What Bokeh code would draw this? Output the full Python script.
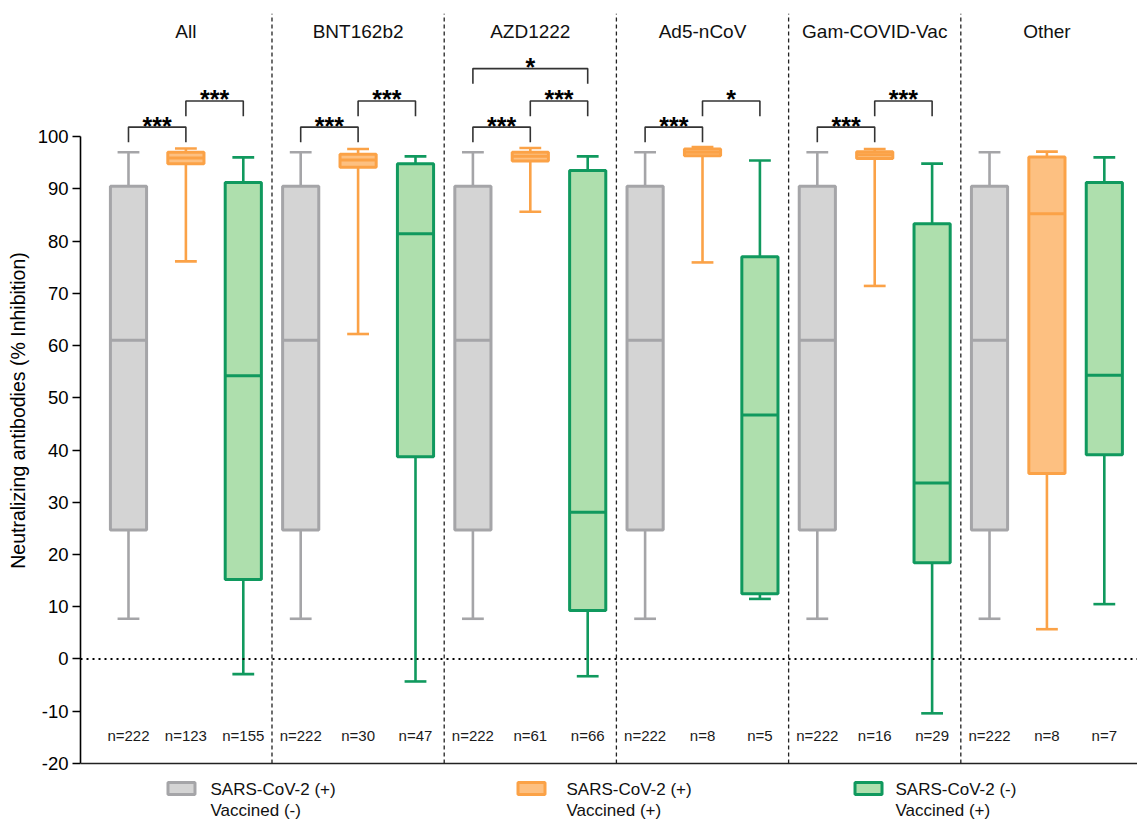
from bokeh.plotting import figure
from bokeh.models import Range1d, FixedTicker, Span, ColumnDataSource
from bokeh.embed import file_html
from bokeh.resources import INLINE
from bokeh.core.properties import value

# ---------------- data ----------------
groups = ["All", "BNT162b2", "AZD1222", "Ad5-nCoV", "Gam-COVID-Vac", "Other"]
series_line1 = ["SARS-CoV-2 (+)", "SARS-CoV-2 (+)", "SARS-CoV-2 (-)"]
series_line2 = ["Vaccined (-)", "Vaccined (+)", "Vaccined (+)"]
y_ticks = [-20, -10, 0, 10, 20, 30, 40, 50, 60, 70, 80, 90, 100]

# five-number summaries [low whisker, Q1, median, Q3, high whisker]
grey_stats = [
    [7.7, 24.7, 61.0, 90.5, 97.0],
    [7.7, 24.7, 61.0, 90.5, 97.0],
    [7.7, 24.7, 61.0, 90.5, 97.0],
    [7.7, 24.7, 61.0, 90.5, 97.0],
    [7.7, 24.7, 61.0, 90.5, 97.0],
    [7.7, 24.7, 61.0, 90.5, 97.0],
]
orange_stats = [
    [76.1, 94.8, 95.9, 97.0, 97.7],
    [62.2, 94.1, 95.5, 96.6, 97.6],
    [85.6, 95.3, 96.2, 97.0, 97.8],
    [75.9, 96.3, 97.0, 97.6, 98.0],
    [71.4, 95.8, 96.5, 97.1, 97.6],
    [5.7, 35.5, 85.2, 96.1, 97.1],
]
green_stats = [
    [-2.9, 15.2, 54.2, 91.2, 96.0],
    [-4.3, 38.7, 81.4, 94.8, 96.2],
    [-3.3, 9.3, 28.1, 93.5, 96.2],
    [11.5, 12.5, 46.7, 77.0, 95.4],
    [-10.4, 18.4, 33.7, 83.3, 94.8],
    [10.5, 39.1, 54.3, 91.2, 96.0],
]
n_grey = [222, 222, 222, 222, 222, 222]
n_orange = [123, 30, 61, 8, 16, 8]
n_green = [155, 47, 66, 5, 29, 7]

# significance brackets: (group, from series, to series, level, label)
brackets = [
    (0, 0, 1, 1, "***"), (0, 1, 2, 2, "***"),
    (1, 0, 1, 1, "***"), (1, 1, 2, 2, "***"),
    (2, 0, 1, 1, "***"), (2, 1, 2, 2, "***"), (2, 0, 2, 3, "*"),
    (3, 0, 1, 1, "***"), (3, 1, 2, 2, "*"),
    (4, 0, 1, 1, "***"), (4, 1, 2, 2, "***"),
]
bracket_level_y = {1: 101.8, 2: 106.8, 3: 113.0}

# ---------------- style ----------------
FONT = "Liberation Sans"
fills = ["#d4d4d4", "#fdc081", "#aedfad"]
lines = ["#a5a5a8", "#fba247", "#10995e"]
all_stats = [grey_stats, orange_stats, green_stats]
all_n = [n_grey, n_orange, n_green]

BOX_HALF = 0.315
CAP_HALF = 0.19

W, H = 1137, 820
LEFT = 80
p = figure(width=W, height=H, output_backend="svg", toolbar_location=None,
           x_range=Range1d(-0.836, 17.578), y_range=Range1d(-30.91, 126.03),
           x_axis_type=None, min_border_left=LEFT, min_border_right=0,
           min_border_top=0, min_border_bottom=0)
p.outline_line_color = None
p.xgrid.visible = False
p.ygrid.visible = False
p.background_fill_color = "white"
p.border_fill_color = "white"

ax = p.yaxis[0]
ax.ticker = FixedTicker(ticks=y_ticks)
ax.major_label_overrides = {t: str(t) for t in y_ticks}
ax.bounds = (-20, 100)
ax.axis_label = "Neutralizing antibodies (% Inhibition)"
ax.axis_label_text_font = FONT
ax.axis_label_text_font_size = "19.5px"
ax.axis_label_text_font_style = "normal"
ax.axis_label_text_color = "black"
ax.axis_label_standoff = 6
ax.major_label_text_font = FONT
ax.major_label_text_font_size = "18.5px"
ax.major_label_text_color = "black"
ax.major_label_standoff = 4
ax.axis_line_width = 1.6
ax.axis_line_color = "black"
ax.major_tick_line_width = 1.6
ax.major_tick_line_color = "black"
ax.major_tick_out = 8
ax.major_tick_in = 0
ax.minor_tick_line_color = None

# bottom axis line and dotted zero line
p.add_layout(Span(location=-20, dimension="width", line_color="#222222", line_width=1.6))
p.add_layout(Span(location=0, dimension="width", line_color="black", line_width=2.2,
                  line_dash="2 4"))

# group separators
sep_x = [g * 3 + 2.5 for g in range(len(groups) - 1)]
p.segment(x0=sep_x, y0=[-20] * len(sep_x), x1=sep_x, y1=[123.5] * len(sep_x),
          line_color="#222222", line_width=1.3, line_dash="4 3")

# boxes
for k in range(3):
    stats = all_stats[k]
    xs = [g * 3 + k for g in range(len(groups))]
    lo = [s[0] for s in stats]
    q1 = [s[1] for s in stats]
    med = [s[2] for s in stats]
    q3 = [s[3] for s in stats]
    hi = [s[4] for s in stats]
    src = ColumnDataSource(dict(x=xs, lo=lo, q1=q1, med=med, q3=q3, hi=hi,
                                left=[x - BOX_HALF for x in xs], right=[x + BOX_HALF for x in xs],
                                cl=[x - CAP_HALF for x in xs], cr=[x + CAP_HALF for x in xs]))
    p.segment(x0="x", y0="lo", x1="x", y1="q1", source=src, line_color=lines[k], line_width=2.6)
    p.segment(x0="x", y0="q3", x1="x", y1="hi", source=src, line_color=lines[k], line_width=2.6)
    p.segment(x0="cl", y0="lo", x1="cr", y1="lo", source=src, line_color=lines[k], line_width=2.6)
    p.segment(x0="cl", y0="hi", x1="cr", y1="hi", source=src, line_color=lines[k], line_width=2.6)
    p.quad(left="left", right="right", bottom="q1", top="q3", source=src,
           fill_color=fills[k], line_color=lines[k], line_width=3)
    p.segment(x0="left", y0="med", x1="right", y1="med", source=src,
              line_color=lines[k], line_width=3)
    # n labels
    p.text(x=xs, y=[-14.6] * len(xs), text=["n=%d" % n for n in all_n[k]],
           text_font=value(FONT), text_font_size="15px", text_color="#1a1a1a",
           text_align="center", text_baseline="middle")

# group titles
p.text(x=[g * 3 + 1 for g in range(len(groups))], y=[120.1] * len(groups), text=groups,
       text_font=value(FONT), text_font_size="19px", text_color="#111111",
       text_align="center", text_baseline="middle")

# brackets
bxs, bys, sx, sy, st = [], [], [], [], []
for g, a, b, lvl, lab in brackets:
    x0 = g * 3 + a
    x1 = g * 3 + b
    yb = bracket_level_y[lvl]
    bxs.append([x0, x0, x1, x1])
    bys.append([yb - 2.9, yb, yb, yb - 2.9])
    sx.append((x0 + x1) / 2)
    sy.append(yb + 0.3)
    st.append(lab)
p.multi_line(xs=bxs, ys=bys, line_color="#333333", line_width=1.6)
p.text(x=sx, y=sy, text=st, text_font=value(FONT), text_font_size="25px",
       text_font_style="bold", text_color="black", text_align="center",
       text_baseline="alphabetic")

# legend (below the axis)
def px_x(px):
    return (px - 128) / 57.4

def px_y(py):
    return (658.5 - py) / 5.225

sw_x = [px_x(181), px_x(531), px_x(868)]
tx_x = [px_x(210), px_x(566), px_x(895)]
p.rect(x=sw_x, y=[px_y(788)] * 3, width=27, height=12, width_units="screen",
       height_units="screen", fill_color=fills, line_color=lines, line_width=3)
p.text(x=tx_x, y=[px_y(789)] * 3, text=series_line1, text_font=value(FONT),
       text_font_size="17px", text_color="#111111", text_baseline="middle")
p.text(x=tx_x, y=[px_y(810)] * 3, text=series_line2, text_font=value(FONT),
       text_font_size="17px", text_color="#111111", text_baseline="middle")

open("out.html", "w").write(file_html(p, INLINE))
